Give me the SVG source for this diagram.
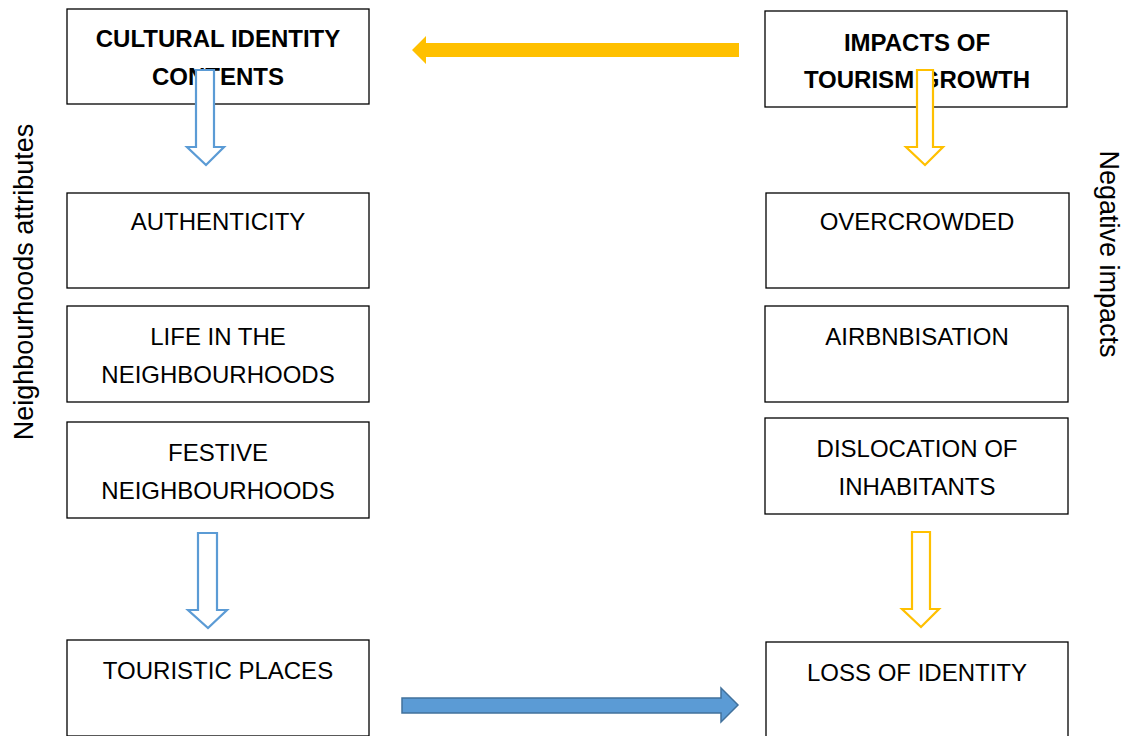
<svg xmlns="http://www.w3.org/2000/svg" width="1126" height="736" viewBox="0 0 1126 736">
<style>
.box{fill:#fff;stroke:#000;stroke-width:1.3}
.t{font-family:"Liberation Sans",Arial,sans-serif;font-size:24px;fill:#000;text-anchor:middle}
.b{font-weight:bold}
.side{font-family:"Liberation Sans",Arial,sans-serif;font-size:27px;fill:#000;text-anchor:middle}
.ob{fill:#fff;stroke:#5b9bd5;stroke-width:2.2}
.oy{fill:#fff;stroke:#ffc000;stroke-width:2.2}
</style>
<rect width="1126" height="736" fill="#fff"/>
<g id="n-cultural"><rect class="box" x="67" y="9" width="302" height="95"/><text class="t b" x="218" y="47">CULTURAL IDENTITY</text><text class="t b" x="218" y="85">CONTENTS</text></g>
<g id="n-authenticity"><rect class="box" x="67" y="193" width="302" height="95"/><text class="t" x="218" y="230">AUTHENTICITY</text></g>
<g id="n-life"><rect class="box" x="67" y="306" width="302" height="96"/><text class="t" x="218" y="345">LIFE IN THE</text><text class="t" x="218" y="383">NEIGHBOURHOODS</text></g>
<g id="n-festive"><rect class="box" x="67" y="422" width="302" height="96"/><text class="t" x="218" y="461">FESTIVE</text><text class="t" x="218" y="499">NEIGHBOURHOODS</text></g>
<g id="n-touristic"><rect class="box" x="67" y="640" width="302" height="96"/><text class="t" x="218" y="679">TOURISTIC PLACES</text></g>
<g id="n-impacts"><rect class="box" x="765" y="11" width="302" height="96"/><text class="t b" x="917" y="51">IMPACTS OF</text><text class="t b" x="917" y="88">TOURISM GROWTH</text></g>
<g id="n-overcrowded"><rect class="box" x="766" y="193" width="303" height="95"/><text class="t" x="917" y="230">OVERCROWDED</text></g>
<g id="n-airbnb"><rect class="box" x="765" y="306" width="303" height="96"/><text class="t" x="917" y="345">AIRBNBISATION</text></g>
<g id="n-dislocation"><rect class="box" x="765" y="418" width="303" height="96"/><text class="t" x="917" y="457">DISLOCATION OF</text><text class="t" x="917" y="495">INHABITANTS</text></g>
<g id="n-loss"><rect class="box" x="766" y="642" width="302" height="96"/><text class="t" x="917" y="681">LOSS OF IDENTITY</text></g>
<g id="labels">
<text class="side" transform="translate(33,282) rotate(-90)">Neighbourhoods attributes</text>
<text class="side" transform="translate(1100,254) rotate(90)">Negative impacts</text>
</g>
<g id="connectors">
<polygon class="ob" points="196,70 214,70 214,147 224,147 206,165 187,147 196,147"/>
<polygon class="oy" points="917,70 933,70 933,147 943,147 925,165 906,147 917,147"/>
<polygon class="ob" points="198,533 217,533 217,610 227,610 208,628 188,610 198,610"/>
<polygon class="oy" points="912,532 930,532 930,609 939,609 921,627 902,609 912,609"/>
<polygon fill="#ffc000" points="739,43 739,57 426,57 426,64 412,50 426,36 426,43"/>
<polygon fill="#5b9bd5" stroke="#41719c" stroke-width="1.5" points="402,698 721,698 721,688 738,705 721,722 721,713 402,713"/>
</g>
</svg>
